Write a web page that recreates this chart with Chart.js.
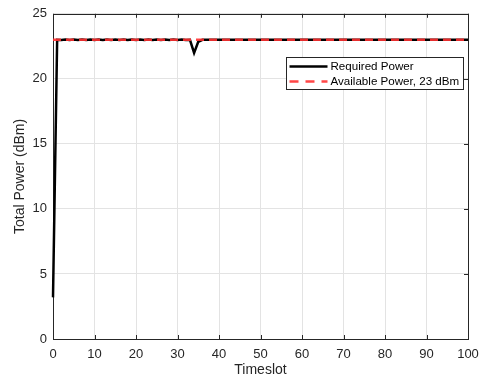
<!DOCTYPE html>
<html>
<head>
<meta charset="utf-8">
<script src="https://cdn.jsdelivr.net/npm/chart.js@4"></script>
<style>
  html,body{margin:0;padding:0;background:#fff;}
  #wrap{width:487px;height:379px;}
</style>
</head>
<body>
<div id="wrap"><canvas id="powerChart" width="487" height="379"></canvas></div>
<script>
// ---------- DATA ----------
const timeslots = [];
for (let t = 0; t <= 100; t++) timeslots.push(t);

const requiredPower = [
  3.2, 23, 22.98, 23.02, 22.98, 23.02, 22.98, 23.02, 22.98, 23.02,
  22.98, 23.02, 22.98, 23.02, 22.98, 23.02, 22.98, 23.02, 22.98, 23.02,
  22.98, 23.02, 22.98, 23.02, 22.98, 23.02, 22.98, 23.02, 22.98, 23.02,
  22.98, 23.02, 22.98, 23.0, 22.0, 22.85, 23.0, 23, 23, 23,
  23, 23, 23, 23, 23, 23, 23, 23, 23, 23,
  23, 23, 23, 23, 23, 23, 23, 23, 23, 23,
  23, 23, 23, 23, 23, 23, 23, 23, 23, 23,
  23, 23, 23, 23, 23, 23, 23, 23, 23, 23,
  23, 23, 23, 23, 23, 23, 23, 23, 23, 23,
  23, 23, 23, 23, 23, 23, 23, 23, 23, 23,
  23
];
const availablePower = timeslots.map(() => 23);

const xTicks = [0,10,20,30,40,50,60,70,80,90,100];
const yTicks = [0,5,10,15,20,25];
const seriesLabels = ['Required Power', 'Available Power, 23 dBm'];

const FONT = 'Liberation Sans, Arial, sans-serif';

// ---------- PLUGINS ----------
// box around the plot, inward ticks and legend inside the axes (matlab look)
const boxPlugin = {
  id: 'boxPlugin',
  beforeDatasetsDraw(chart){
    const {ctx, chartArea:a} = chart;
    ctx.save();
    ctx.strokeStyle = '#262626';
    ctx.lineWidth = 1;
    ctx.strokeRect(Math.round(a.left)+0.5, Math.round(a.top)+0.5,
                   Math.round(a.right-a.left), Math.round(a.bottom-a.top));
    ctx.restore();
  },
  afterDatasetsDraw(chart){
    const {ctx, chartArea:a, scales} = chart;
    ctx.save();
    ctx.strokeStyle = '#262626';
    ctx.lineWidth = 1;
    // inward ticks
    xTicks.forEach(v=>{
      const x = Math.round(scales.x.getPixelForValue(v))+0.5;
      ctx.beginPath();
      ctx.moveTo(x,a.bottom); ctx.lineTo(x,a.bottom-4);
      ctx.moveTo(x,a.top); ctx.lineTo(x,a.top+4);
      ctx.stroke();
    });
    yTicks.forEach(v=>{
      const y = Math.round(scales.y.getPixelForValue(v))+0.5;
      ctx.beginPath();
      ctx.moveTo(a.right,y); ctx.lineTo(a.right-4,y);
      ctx.stroke();
    });
    ctx.beginPath();
    ctx.moveTo(Math.round(a.left)+0.5, a.bottom+0.5);
    ctx.lineTo(Math.round(a.right)+0.5, a.bottom+0.5);
    ctx.lineTo(Math.round(a.right)+0.5, a.top);
    ctx.stroke();

    // legend
    const lx = 286.5, ly = 57.5, lw = 177, lh = 32;
    ctx.fillStyle = '#fff';
    ctx.fillRect(lx, ly, lw, lh);
    ctx.strokeStyle = '#262626';
    ctx.strokeRect(lx, ly, lw, lh);
    ctx.font = '11.6px ' + FONT;
    ctx.textBaseline = 'middle';
    chart.data.datasets.forEach((ds,i)=>{
      const yy = ly + 9 + i*15;
      ctx.beginPath();
      ctx.strokeStyle = ds.borderColor;
      ctx.lineWidth = 2.5;
      ctx.setLineDash(ds.borderDash ? [9,7] : []);
      ctx.moveTo(lx+3, yy); ctx.lineTo(lx+41, yy);
      ctx.stroke();
      ctx.setLineDash([]);
      ctx.fillStyle = '#000';
      ctx.fillText(ds.label, lx+44, yy+0.5);
    });
    ctx.restore();
  }
};

// ---------- CHART ----------
const ctx = document.getElementById('powerChart').getContext('2d');
const powerChart = new Chart(ctx, {
  type: 'line',
  data: {
    datasets: [
      {
        label: seriesLabels[0],
        data: timeslots.map((t,i)=>({x:t, y:requiredPower[i]})),
        borderColor: '#000000',
        borderWidth: 2.5,
        pointRadius: 0,
        tension: 0,
        clip: 4,
        order: 2
      },
      {
        label: seriesLabels[1],
        data: timeslots.map((t,i)=>({x:t, y:availablePower[i]})),
        borderColor: 'rgba(255,50,50,0.9)',
        borderWidth: 2.5,
        borderDash: [8,5],
        pointRadius: 0,
        order: 1
      }
    ]
  },
  options: {
    responsive: false,
    animation: false,
    layout: {padding: {top: 12, right: 19, left: 12, bottom: 0}},
    plugins: {legend: {display: false}, tooltip: {enabled: false}},
    scales: {
      x: {
        type: 'linear', min: 0, max: 100,
        afterBuildTicks: s => { s.ticks = xTicks.map(v=>({value:v})); },
        afterFit: s => { s.height = 40; },
        grid: {color: '#e3e3e3', drawTicks: false},
        border: {display: false},
        ticks: {color: '#262626', font: {family: FONT, size: 13}, padding: 8, maxRotation: 0},
        title: {display: true, text: 'Timeslot', color: '#262626',
                font: {family: FONT, size: 14}, padding: {top: 0, bottom: 0}}
      },
      y: {
        type: 'linear', min: 0, max: 25,
        afterBuildTicks: s => { s.ticks = yTicks.map(v=>({value:v})); },
        afterFit: s => { s.width = 41; },
        grid: {color: '#e3e3e3', drawTicks: false},
        border: {display: false},
        ticks: {color: '#262626', font: {family: FONT, size: 13}, padding: 6},
        title: {display: true, text: 'Total Power (dBm)', color: '#262626',
                font: {family: FONT, size: 14}, padding: {bottom: 0, top: 0}}
      }
    }
  },
  plugins: [boxPlugin]
});
</script>
</body>
</html>
